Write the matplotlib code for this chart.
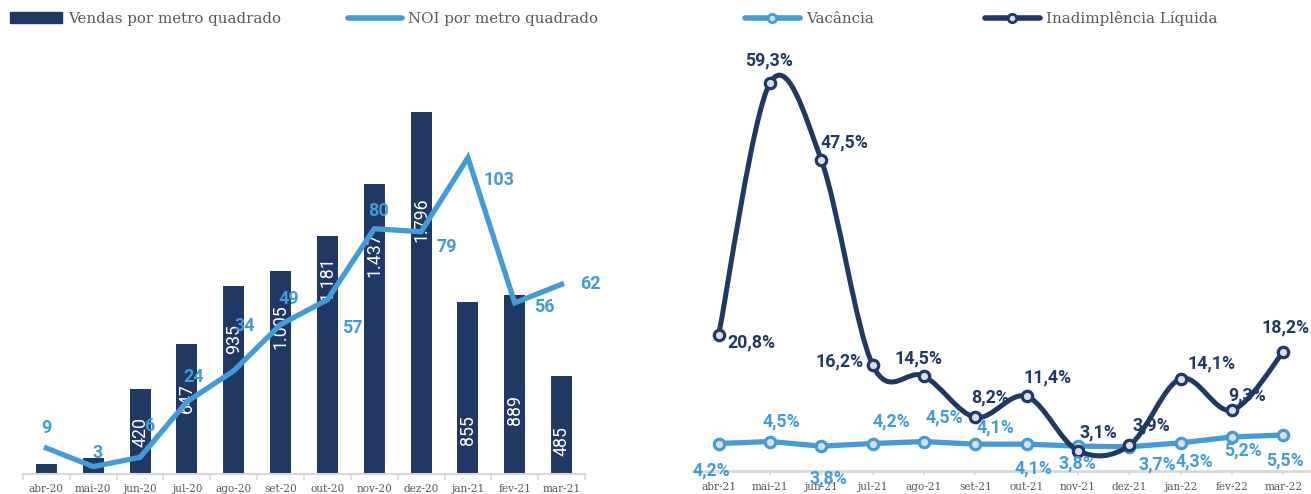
import matplotlib.pyplot as plt
import numpy as np
from matplotlib.path import Path
from matplotlib.patches import PathPatch, Patch
from matplotlib.lines import Line2D

# Dados - grafico da esquerda
meses_20 = ['abr-20', 'mai-20', 'jun-20', 'jul-20', 'ago-20', 'set-20',
            'out-20', 'nov-20', 'dez-20', 'jan-21', 'fev-21', 'mar-21']
vendas_m2 = [50, 80, 420, 647, 935, 1005, 1181, 1437, 1796, 855, 889, 485]
vendas_txt = ['', '', '420', '647', '935', '1.005', '1.181', '1.437', '1.796',
              '855', '889', '485']
noi_m2 = [9, 3, 6, 24, 34, 49, 57, 80, 79, 103, 56, 62]

# Dados - grafico da direita
meses_21 = ['abr-21', 'mai-21', 'jun-21', 'jul-21', 'ago-21', 'set-21',
            'out-21', 'nov-21', 'dez-21', 'jan-22', 'fev-22', 'mar-22']
vacancia = [4.2, 4.5, 3.8, 4.2, 4.5, 4.1, 4.1, 3.8, 3.7, 4.3, 5.2, 5.5]
inadimplencia = [20.8, 59.3, 47.5, 16.2, 14.5, 8.2, 11.4, 3.1, 3.9, 14.1, 9.3, 18.2]

# Posicao dos rotulos (pixels, y para baixo) - ajustes manuais como no original
off_noi = [(0, -20), (4, -14), (9, -31), (7, -25), (11, -45), (8, -25),
           (25, 28), (4, -18), (26, 15), (31, 22), (30, 4), (29, 0)]
off_barra = [0, 0, 43, 54, 54, 55, 43, 70, 108, 128, 115, 65]
off_inad = [(33, 8), (-1, -22), (23, -18), (-33, -4), (-6, -18), (15, -20),
            (21, -19), (20, -18), (22, -20), (31, -15), (15, -15), (2, -24)]
off_vac = [(-7, 27), (11, -20), (7, 32), (19, -22), (20, -24), (20, -17),
           (7, 24), (-1, 17), (28, 18), (14, 19), (11, 13), (2, 25)]

AZUL_ESC = '#203864'
AZUL_CLARO = '#449bd7'
FUNDO_MARC = '#d9dee7'
CINZA = '#595959'
LINHA_EIXO = '#d9d9d9'
W, H = 1311, 494

fig = plt.figure(figsize=(W / 100, H / 100), dpi=100)


def eixo_px(x0, x1, y_top, y_bot):
    return fig.add_axes([x0 / W, 1 - y_bot / H, (x1 - x0) / W, (y_bot - y_top) / H])


def fmt_pct(v):
    return f'{v:.1f}%'.replace('.', ',')


# ---------------- esquerda: barras + linha ----------------
ax = eixo_px(23, 585, 60, 474)
x = np.arange(len(meses_20))
ax.bar(x, vendas_m2, width=0.45, color=AZUL_ESC, zorder=2)
ax.set_xlim(-0.5, 11.5)
ax.set_ylim(0, 2054)
for i, (v, t) in enumerate(zip(vendas_m2, vendas_txt)):
    if t:
        ax.annotate(t, (i, v), xytext=(0, -off_barra[i]), textcoords='offset pixels',
                    rotation=90, ha='center', va='center', color='white',
                    fontsize=12.8, family='Roboto', zorder=3)

ax2 = ax.twinx()
ax2.plot(x, noi_m2, color=AZUL_CLARO, lw=3.8, solid_joinstyle='miter', zorder=4)
ax2.set_ylim(0.6, 134.6)
for i, v in enumerate(noi_m2):
    dx, dy = off_noi[i]
    ax2.annotate(str(v), (i, v), xytext=(dx, -dy), textcoords='offset pixels',
                 ha='center', va='center', color=AZUL_CLARO, fontsize=13,
                 fontweight='bold', family='Roboto', zorder=6)

for a in (ax, ax2):
    for s in ('top', 'left', 'right'):
        a.spines[s].set_visible(False)
    a.set_yticks([])
ax2.spines['bottom'].set_visible(False)
ax.spines['bottom'].set_color(LINHA_EIXO)
ax.spines['bottom'].set_linewidth(1.5)
ax.set_xticks(x)
ax.set_xticklabels(meses_20, family='DejaVu Serif', fontsize=7.6, color=CINZA)
ax.set_xticks(np.arange(-0.5, 12, 1), minor=True)
ax.tick_params(axis='x', which='major', length=0, pad=7)
ax.tick_params(axis='x', which='minor', length=4, width=1.2, color=LINHA_EIXO)

# ---------------- direita: vacancia e inadimplencia ----------------
bx = eixo_px(693, 1309, 45.6, 471)
xr = np.arange(len(meses_21))
bx.set_xlim(-0.5, 11.5)
bx.set_ylim(0, 65)

bx.plot(xr, vacancia, color=AZUL_CLARO, lw=3.8, marker='o', ms=7.5, mfc=FUNDO_MARC,
        mec=AZUL_CLARO, mew=2.3, zorder=3, clip_on=False)

# linha suavizada (bezier, como no Excel)
pts = np.column_stack([xr, inadimplencia]).astype(float)
ext = np.vstack([pts[0], pts, pts[-1]])
verts = [pts[0]]
codes = [Path.MOVETO]
for i in range(len(pts) - 1):
    p0, p1, p2, p3 = ext[i], ext[i + 1], ext[i + 2], ext[i + 3]
    verts += [p1 + (p2 - p0) / 6, p2 - (p3 - p1) / 6, p2]
    codes += [Path.CURVE4] * 3
bx.add_patch(PathPatch(Path(verts, codes), fill=False, edgecolor=AZUL_ESC, lw=3.6,
                       capstyle='round', joinstyle='round', zorder=4))
bx.plot(xr, inadimplencia, ls='none', marker='o', ms=7.5, mfc=FUNDO_MARC,
        mec=AZUL_ESC, mew=2.3, zorder=5, clip_on=False)

for i, v in enumerate(inadimplencia):
    dx, dy = off_inad[i]
    bx.annotate(fmt_pct(v), (i, v), xytext=(dx, -dy), textcoords='offset pixels',
                ha='center', va='center', color=AZUL_ESC, fontsize=12.8,
                fontweight='bold', family='Roboto', zorder=6)
for i, v in enumerate(vacancia):
    dx, dy = off_vac[i]
    bx.annotate(fmt_pct(v), (i, v), xytext=(dx, -dy), textcoords='offset pixels',
                ha='center', va='center', color=AZUL_CLARO, fontsize=12.8,
                fontweight='bold', family='Roboto', zorder=6, annotation_clip=False)

for s in ('top', 'left', 'right'):
    bx.spines[s].set_visible(False)
bx.spines['bottom'].set_color(LINHA_EIXO)
bx.spines['bottom'].set_linewidth(2)
bx.set_yticks([])
bx.set_xticks(xr)
bx.set_xticklabels(meses_21, family='DejaVu Serif', fontsize=7.6, color=CINZA)
bx.tick_params(axis='x', length=3, width=1.2, color=LINHA_EIXO, pad=5)

# ---------------- legendas ----------------
prop = {'family': 'DejaVu Serif', 'size': 10.8}


def legenda(handle, texto, x_px, comp):
    fig.legend([handle], [texto], loc='center left', bbox_to_anchor=(x_px / W, 1 - 19 / H),
               frameon=False, prop=prop, labelcolor=CINZA, borderpad=0, borderaxespad=0,
               handlelength=comp, handletextpad=0.4)


legenda(Patch(color=AZUL_ESC), 'Vendas por metro quadrado', 10, 3.45)
legenda(Line2D([], [], color=AZUL_CLARO, lw=4, solid_capstyle='round'),
        'NOI por metro quadrado', 348, 3.6)
legenda(Line2D([], [], color=AZUL_CLARO, lw=4, solid_capstyle='round', marker='o', ms=6,
               mfc=FUNDO_MARC, mec=AZUL_CLARO, mew=2), 'Vacância', 745, 3.65)
legenda(Line2D([], [], color=AZUL_ESC, lw=4, solid_capstyle='round', marker='o', ms=6,
               mfc=FUNDO_MARC, mec=AZUL_ESC, mew=2), 'Inadimplência Líquida', 985, 3.65)

fig.savefig('out.png', dpi=100)
